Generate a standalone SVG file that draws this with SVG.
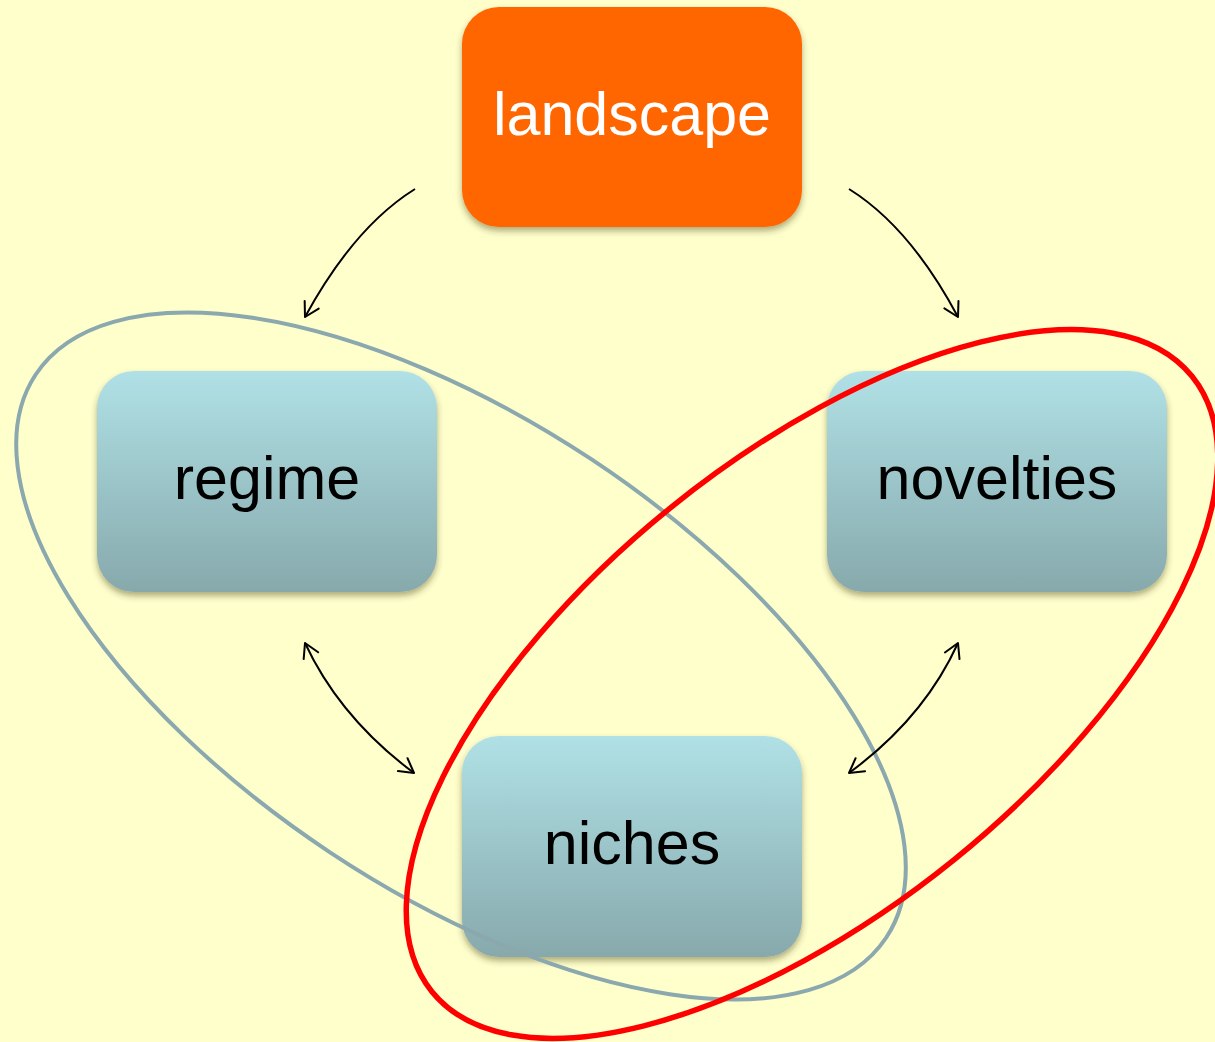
<svg xmlns="http://www.w3.org/2000/svg" width="1215" height="1042" viewBox="0 0 1215 1042">
  <defs>
    <linearGradient id="blue" x1="0" y1="0" x2="0" y2="1">
      <stop offset="0" stop-color="#B0E1E6"/>
      <stop offset="1" stop-color="#87A9AC"/>
    </linearGradient>
    <filter id="shadow" x="-10%" y="-10%" width="120%" height="130%">
      <feDropShadow dx="0" dy="4" stdDeviation="3" flood-color="#3A3000" flood-opacity="0.4"/>
    </filter>
    <marker id="arrow" viewBox="0 0 20 20" refX="18" refY="10" markerWidth="20" markerHeight="20" markerUnits="userSpaceOnUse" orient="auto-start-reverse">
      <path d="M4,2 L18,10 L4,18" fill="none" stroke="#000" stroke-width="2" stroke-linecap="round" stroke-linejoin="round"/>
    </marker>
  </defs>
  <style>
    .box { filter: url(#shadow); }
    .blue { fill: url(#blue); }
    .label { font-family: "Liberation Sans", Arial, sans-serif; font-size: 61px; text-anchor: middle; }
    .conn { fill: none; stroke: #000; stroke-width: 2; marker-end: url(#arrow); }
    .both { marker-start: url(#arrow); }
  </style>
  <rect width="1215" height="1042" fill="#FFFFCC"/>

  <g id="landscape">
    <rect class="box" x="462" y="7" width="340" height="220" rx="37" fill="#FF6600"/>
    <text class="label" x="632" y="135" fill="#FFFFFF">landscape</text>
  </g>
  <g id="regime">
    <rect class="box blue" x="97" y="371" width="340" height="221" rx="37"/>
    <text class="label" x="267" y="499" fill="#000">regime</text>
  </g>
  <g id="novelties">
    <rect class="box blue" x="827" y="371" width="340" height="221" rx="37"/>
    <text class="label" x="997" y="499" fill="#000">novelties</text>
  </g>
  <g id="niches">
    <rect class="box blue" x="462" y="736" width="340" height="221" rx="37"/>
    <text class="label" x="632" y="864" fill="#000">niches</text>
  </g>

  <g id="groups">
    <ellipse cx="461" cy="656" rx="510" ry="236" transform="rotate(33.5 461 656)" fill="none" stroke="#8AA8AE" stroke-width="4"/>
    <ellipse cx="812" cy="684" rx="489" ry="226" transform="rotate(-39 812 684)" fill="none" stroke="#FF0000" stroke-width="5.5"/>
  </g>

  <g id="connectors">
    <path class="conn" d="M415,189 Q354,227 305,317"/>
    <path class="conn" d="M849,189 Q910,227 958,317"/>
    <path class="conn both" d="M305,643 Q340,718 414,773"/>
    <path class="conn both" d="M958,643 Q924,718 849,773"/>
  </g>
</svg>
